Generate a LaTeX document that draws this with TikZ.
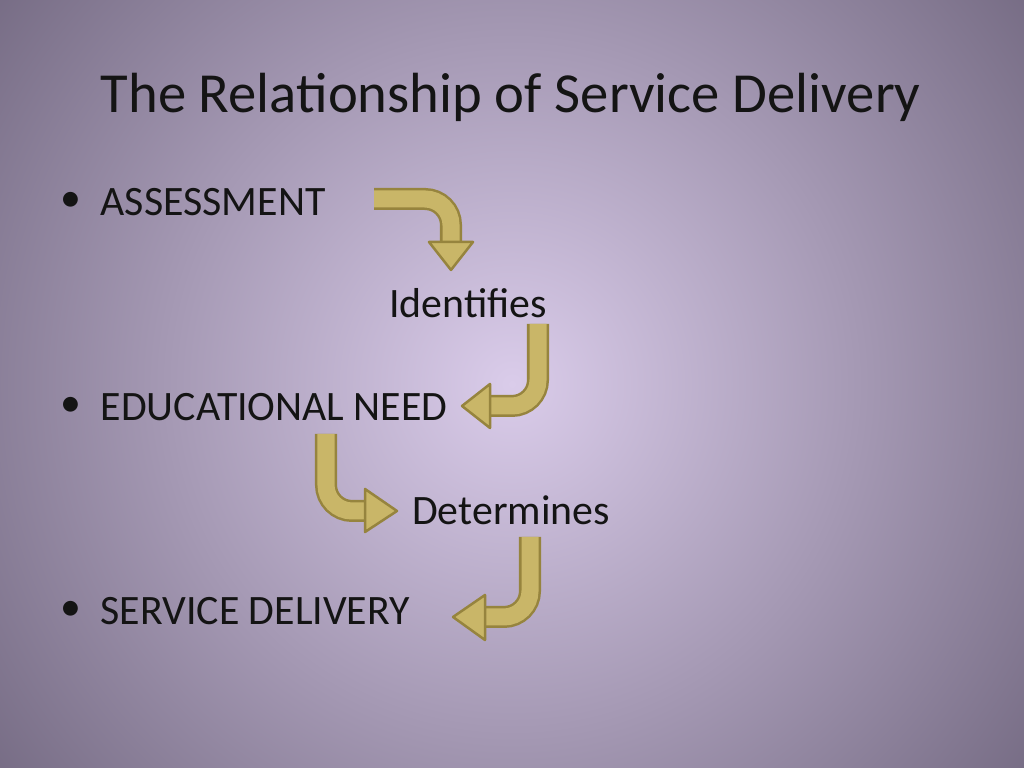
\documentclass[tikz,border=0pt]{standalone}
\usepackage{fontspec}
\setmainfont{Carlito}
\definecolor{bgin}{RGB}{218,204,234}
\definecolor{bgout}{RGB}{112,102,126}
\definecolor{arrfill}{RGB}{201,182,104}
\definecolor{arrline}{RGB}{150,132,62}
\definecolor{ink}{RGB}{20,20,20}
\tikzset{
  item/.style={anchor=west, inner sep=0pt, font=\fontsize{11.9}{14}\selectfont, text=ink},
  verb/.style={inner sep=0pt, font=\fontsize{11.9}{14}\selectfont, text=ink},
  band/.style={line width=0.22cm, arrline, rounded corners=0.26cm},
  bandin/.style={line width=0.17cm, arrfill, rounded corners=0.26cm},
  head/.style={fill=arrfill, draw=arrline, line width=0.025cm, line join=round}
}
\newcommand{\bentarr}[2]{%
  \draw [band] #1; \draw [bandin] #1;
  \filldraw [head] #2 -- cycle;}
\begin{document}
\begin{tikzpicture}[x=0.01cm, y=-0.01cm]

	% === BACKGROUND === (((
	\useasboundingbox (0,0) rectangle (1024,768);
	\clip (0,0) rectangle (1024,768);
	\fill [bgout] (0,0) rectangle (1024,768);
	\shade [inner color=bgin, outer color=bgout] (512,384) circle (6.9cm);
	% )))

	% === TEXT === (((
	\node [anchor=west, inner sep=0pt, font=\fontsize{16.1}{18}\selectfont, text=ink] (title) at (100,97) {The Relationship of Service Delivery};
	\node [item] (assess) at (100,202) {ASSESSMENT};
	\node [item] (need) at (100,407) {EDUCATIONAL NEED};
	\node [item] (service) at (100,611) {SERVICE DELIVERY};
	\foreach \y in {202,407,611} \node [item] at (60,\y) {\textbullet};
	\node [verb] (ident) at (468,303) {Identifies};
	\node [verb] (determ) at (511,510) {Determines};
	% )))

	% === ARROWS === (((
	\bentarr{(374,199) -- (451,199) -- (451,243)}{(429,242) -- (473,242) -- (451,270)}
	\bentarr{(538,324) -- (538,406) -- (489,406)}{(490,384) -- (490,428) -- (462,406)}
	\bentarr{(326,434) -- (326,511) -- (366,511)}{(365,489) -- (365,532) -- (397,511)}
	\bentarr{(530,537) -- (530,617) -- (484,617)}{(485,595) -- (485,640) -- (453,617)}
	% )))

\end{tikzpicture}
\end{document}
